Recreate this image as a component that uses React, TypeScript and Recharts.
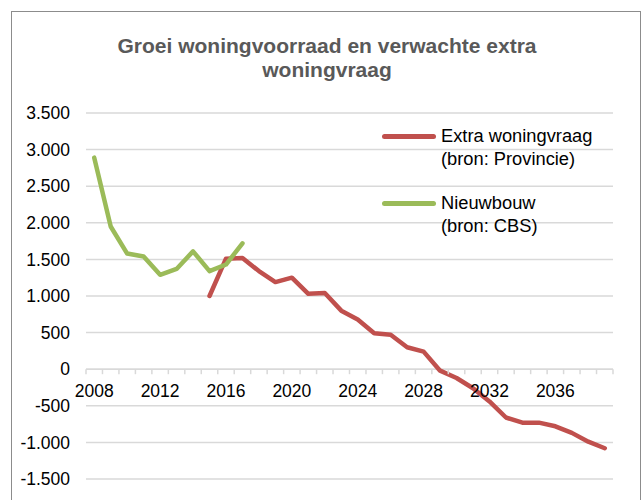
import { CartesianGrid, Line, LineChart, ReferenceLine, XAxis, YAxis } from "recharts";

const years = [
  2008, 2009, 2010, 2011, 2012, 2013, 2014, 2015, 2016, 2017, 2018, 2019, 2020, 2021, 2022, 2023,
  2024, 2025, 2026, 2027, 2028, 2029, 2030, 2031, 2032, 2033, 2034, 2035, 2036, 2037, 2038, 2039,
];
const yearLabels = [2008, 2012, 2016, 2020, 2024, 2028, 2032, 2036];
const yTicks = [-1500, -1000, -500, 0, 500, 1000, 1500, 2000, 2500, 3000, 3500];

// Nieuwbouw (bron: CBS), 2008-2017
const nieuwbouwStart = 2008;
const nieuwbouw = [2890, 1950, 1580, 1540, 1290, 1370, 1610, 1340, 1430, 1720];

// Extra woningvraag (bron: Provincie), 2015-2039
const extraStart = 2015;
const extraVraag = [
  1000, 1510, 1520, 1340, 1190, 1250, 1030, 1040, 800, 680, 490, 470, 300, 240, -20, -120, -260,
  -440, -660, -730, -730, -780, -870, -990, -1080,
];

const data = years.map((year) => ({
  year,
  nieuwbouw: nieuwbouw[year - nieuwbouwStart] ?? null,
  extra: extraVraag[year - extraStart] ?? null,
}));
const boundaries = [...years.map((y) => y - 0.5), years[years.length - 1] + 0.5];

const FONT = '"Liberation Sans", Arial, sans-serif';
const W = 643;
const H = 500;
const TOP = 113;
const BOTTOM = 19;
const AXIS_H = 1;
const Y_MIN = yTicks[0];
const Y_MAX = yTicks[yTicks.length - 1];
const plotH = H - TOP - BOTTOM - 2 * AXIS_H;
const zeroY = TOP + ((Y_MAX - 0) / (Y_MAX - Y_MIN)) * plotH;

const fmt = (v: number) => {
  const s = Math.abs(v).toString().replace(/\B(?=(\d{3})+(?!\d))/g, ".");
  return v < 0 ? "-" + s : s;
};

const YearTick = (props: any) => (
  <text x={props.x} y={zeroY + 22} textAnchor="middle" dominantBaseline="central" fontSize={17.5} fill="#000" fontFamily={FONT}>
    {props.payload.value}
  </text>
);

const MinorTick = (props: any) => <line x1={props.x} x2={props.x} y1={zeroY} y2={zeroY + 5} stroke="#d9d9d9" strokeWidth={1.5} />;

const legendItems = [
  { color: "#c0504d", lines: ["Extra woningvraag", "(bron: Provincie)"] },
  { color: "#9bbb59", lines: ["Nieuwbouw", "(bron: CBS)"] },
];

export default function App() {
  return (
    <div style={{ position: "absolute", left: 0, top: 0, width: W, height: H, background: "#fff", overflow: "hidden" }}>
      <div style={{ position: "absolute", left: 11, top: 11, width: 628, height: 520, border: "1.5px solid #8c8c8c" }} />
      <div
        style={{
          position: "absolute",
          left: 12,
          width: 630,
          top: 34,
          textAlign: "center",
          fontFamily: FONT,
          fontWeight: "bold",
          fontSize: 21,
          lineHeight: "24px",
          color: "#595959",
        }}
      >
        Groei woningvoorraad en verwachte extra
        <br />
        woningvraag
      </div>
      <div style={{ position: "absolute", left: 0, top: 0 }}>
        <LineChart width={W} height={H} data={data} margin={{ top: TOP, right: 30, bottom: BOTTOM, left: 0 }}>
          <CartesianGrid horizontal vertical={false} stroke="#d9d9d9" strokeWidth={1.5} />
          <XAxis
            dataKey="year"
            type="number"
            domain={[boundaries[0], boundaries[boundaries.length - 1]]}
            ticks={yearLabels}
            height={AXIS_H}
            axisLine={false}
            tickLine={false}
            tick={<YearTick />}
            interval={0}
          />
          <XAxis
            xAxisId="minor"
            dataKey="year"
            type="number"
            domain={[boundaries[0], boundaries[boundaries.length - 1]]}
            ticks={boundaries}
            height={AXIS_H}
            axisLine={false}
            tickLine={false}
            tick={<MinorTick />}
            interval={0}
          />
          <YAxis
            width={86}
            domain={[Y_MIN, Y_MAX]}
            ticks={yTicks}
            interval={0}
            axisLine={false}
            tickLine={false}
            tickSize={0}
            tickMargin={16}
            tickFormatter={fmt}
            tick={{ fontSize: 17.5, fill: "#000", fontFamily: FONT }}
          />
          <ReferenceLine y={0} stroke="#d9d9d9" strokeWidth={1.5} />
          <Line
            dataKey="extra"
            stroke="#c0504d"
            strokeWidth={4.5}
            dot={false}
            isAnimationActive={false}
            connectNulls={false}
            strokeLinejoin="round"
            strokeLinecap="round"
          />
          <Line
            dataKey="nieuwbouw"
            stroke="#9bbb59"
            strokeWidth={4.5}
            dot={false}
            isAnimationActive={false}
            connectNulls={false}
            strokeLinejoin="round"
            strokeLinecap="round"
          />
        </LineChart>
      </div>
      <div style={{ position: "absolute", left: 382, top: 124, fontFamily: FONT, fontSize: 18.3, color: "#000" }}>
        {legendItems.map((item) => (
          <div key={item.color} style={{ display: "flex", alignItems: "flex-start", height: 67 }}>
            <div style={{ width: 54, height: 4.5, borderRadius: 3, background: item.color, marginTop: 10, marginRight: 5 }} />
            <div style={{ lineHeight: "23px", whiteSpace: "nowrap" }}>
              {item.lines.map((l) => (
                <div key={l}>{l}</div>
              ))}
            </div>
          </div>
        ))}
      </div>
    </div>
  );
}
